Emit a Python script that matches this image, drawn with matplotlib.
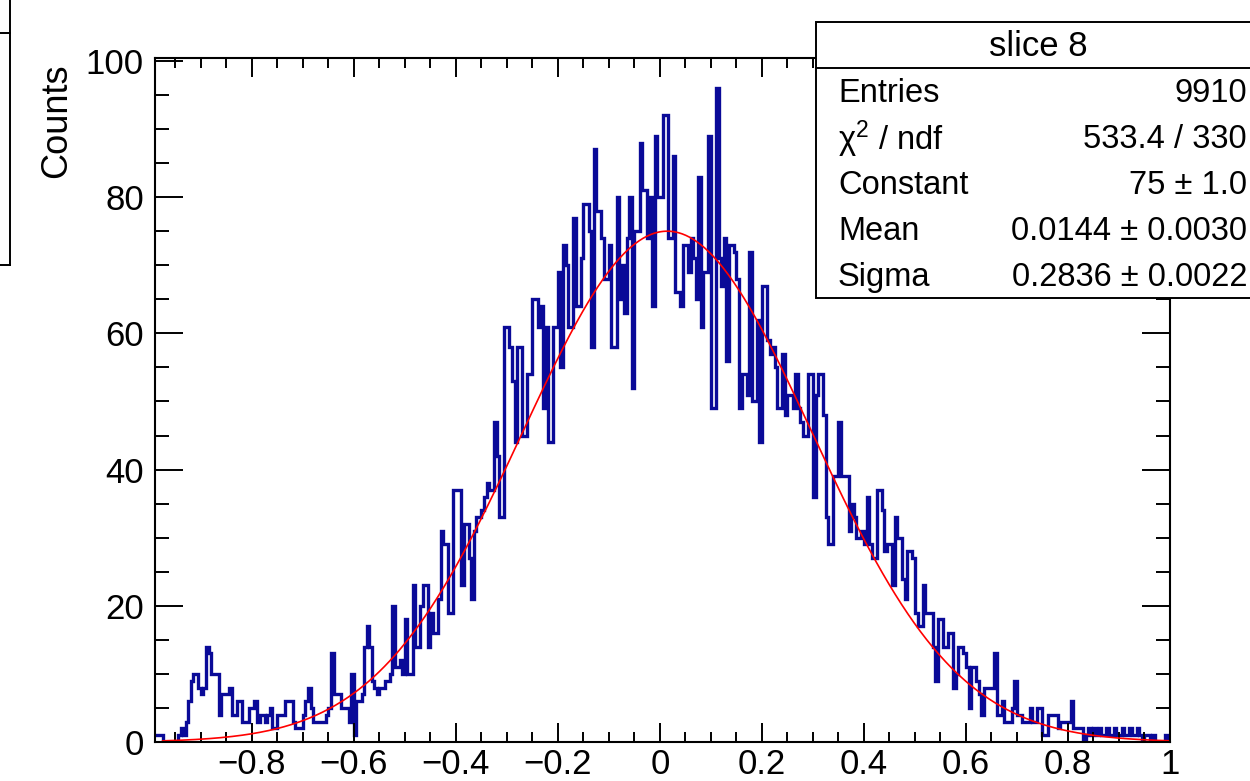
import numpy as np
import matplotlib
matplotlib.use("Agg")
import matplotlib.pyplot as plt
from matplotlib.lines import Line2D
from matplotlib.patches import Rectangle
from matplotlib.ticker import MultipleLocator, FuncFormatter

plt.rcParams["font.family"] = ["Liberation Sans", "DejaVu Sans"]

# histogramme "slice 8" : 400 bins de 0.005 entre -1 et 1 (une ligne = 0.1)
x_low, x_high, n_bins = -1.0, 1.0, 400
counts = [
    1, 1, 1, 1, 1, 0, 0, 0, 0, 0, 0, 1, 2, 1, 3, 6, 9, 10, 10, 8,          # -1.0
    7, 8, 14, 13, 10, 10, 10, 4, 7, 7, 7, 8, 4, 4, 6, 6, 3, 3, 3, 5,        # -0.9
    5, 6, 3, 4, 4, 3, 4, 5, 2, 2, 4, 4, 4, 6, 6, 6, 3, 2, 2, 2,             # -0.8
    4, 6, 8, 5, 3, 3, 3, 3, 3, 4, 5, 13, 7, 7, 7, 5, 5, 5, 3, 10,           # -0.7
    1, 6, 6, 7, 14, 17, 14, 9, 8, 7, 8, 8, 9, 9, 10, 20, 11, 11, 12, 10,    # -0.6
    18, 10, 10, 23, 14, 14, 20, 23, 23, 14, 19, 16, 16, 21, 31, 29, 29, 19, 19, 37,  # -0.5
    37, 37, 23, 32, 32, 27, 21, 31, 33, 33, 34, 36, 38, 37, 37, 47, 42, 33, 33, 61,  # -0.4
    61, 58, 53, 44, 58, 58, 45, 45, 54, 54, 65, 65, 61, 64, 49, 61, 44, 44, 61, 61,  # -0.3
    69, 55, 73, 70, 61, 61, 77, 64, 64, 71, 79, 79, 75, 58, 87, 78, 78, 74, 68, 68,  # -0.2
    73, 58, 58, 80, 65, 70, 63, 74, 80, 52, 75, 75, 88, 81, 81, 74, 80, 64, 89, 80,  # -0.1
    80, 92, 92, 74, 74, 86, 66, 66, 64, 73, 73, 69, 74, 71, 65, 83, 61, 69, 69, 89,  # 0.0
    49, 49, 96, 71, 67, 74, 56, 73, 73, 72, 68, 49, 54, 54, 51, 72, 50, 50, 62, 44,  # 0.1
    67, 67, 59, 57, 58, 55, 49, 49, 57, 48, 51, 51, 49, 54, 49, 47, 45, 45, 54, 54,  # 0.2
    36, 51, 54, 54, 48, 33, 29, 29, 39, 39, 47, 39, 39, 39, 31, 35, 33, 30, 30, 31,  # 0.3
    29, 36, 29, 27, 27, 37, 37, 34, 28, 29, 29, 23, 33, 30, 30, 24, 21, 28, 28, 27,  # 0.4
    19, 17, 17, 23, 19, 19, 19, 14, 9, 18, 18, 14, 14, 16, 16, 8, 10, 14, 14, 13,    # 0.5
    11, 5, 11, 11, 9, 7, 4, 8, 8, 8, 8, 13, 4, 4, 6, 3, 3, 3, 5, 9,         # 0.6
    4, 4, 3, 3, 3, 5, 3, 3, 5, 5, 1, 1, 4, 4, 4, 4, 2, 3, 3, 3,             # 0.7
    3, 6, 2, 2, 2, 2, 0, 1, 2, 1, 2, 1, 2, 1, 1, 2, 1, 1, 2, 1,             # 0.8
    1, 2, 1, 1, 2, 1, 1, 2, 1, 0, 1, 1, 0, 1, 0, 0, 0, 0, 1, 0,             # 0.9
]

# parametres du fit gaussien (boite de stats)
fit_constant = 75.0
fit_mean = 0.0144
fit_sigma = 0.2836
fit_range = (-0.975, 1.0)

stats_title = "slice 8"
stats_labels = ["Entries", "\u03c7$^{2}$ / ndf", "Constant", "Mean", "Sigma"]
stats_values = ["9910", "533.4 / 330", "75 \u00b1 1.0",
                "0.0144 \u00b1 0.0030", "0.2836 \u00b1 0.0022"]

W, H = 1250, 781


def px(x, y):
    """Pixels image -> fraction de figure"""
    return x / W, 1 - y / H


fig = plt.figure(figsize=(W / 100, H / 100), dpi=100)
plt.rcParams["mathtext.fontset"] = "custom"
plt.rcParams["mathtext.rm"] = "Liberation Sans"
plt.rcParams["mathtext.default"] = "rm"
ax = fig.add_axes([155 / W, (H - 742) / H, 1015 / W, (742 - 57.5) / H])

edges = np.linspace(x_low, x_high, n_bins + 1)
ax.stairs(counts, edges, color="#0a0a98", linewidth=2.4, baseline=None)

xf = np.linspace(fit_range[0], fit_range[1], 800)
yf = fit_constant * np.exp(-0.5 * ((xf - fit_mean) / fit_sigma) ** 2)
ax.plot(xf, yf, color="#ff0000", linewidth=1.2)

ax.set_xlim(-0.99, 1.0)
ax.set_ylim(0, 100.5)

ax.set_xticks(np.round(np.arange(-0.8, 1.01, 0.2), 1))
ax.xaxis.set_minor_locator(MultipleLocator(0.05))
ax.yaxis.set_major_locator(MultipleLocator(20))
ax.yaxis.set_minor_locator(MultipleLocator(5))
fmt = FuncFormatter(lambda v, _: f"{round(v, 6) + 0.0:g}".replace("-", "\u2212"))
ax.xaxis.set_major_formatter(fmt)
ax.yaxis.set_major_formatter(fmt)

ax.tick_params(which="both", direction="in", top=True, right=True, width=1.4,
               labelsize=25)
ax.tick_params(axis="x", which="major", length=14, pad=4)
ax.tick_params(axis="x", which="minor", length=7)
ax.tick_params(axis="y", which="major", length=20, pad=8)
ax.tick_params(axis="y", which="minor", length=10)
for s in ax.spines.values():
    s.set_linewidth(1.5)

fig.text(*px(57, 63), "Counts", rotation=90, ha="center", va="top", fontsize=26)

# boite de stats
bx0, by0 = px(816, 298)
bx1, by1 = px(1260, 22)
fig.patches.append(Rectangle((bx0, by0), bx1 - bx0, by1 - by0, transform=fig.transFigure,
                             facecolor="white", edgecolor="black", linewidth=1.4))
sx0, sy = px(816, 68)
fig.lines.append(Line2D([sx0, 1.0], [sy, sy], transform=fig.transFigure,
                        color="black", linewidth=1.4))
fig.text(*px(1038, 46), stats_title, ha="center", va="center", fontsize=25)
for i, (lab, val) in enumerate(zip(stats_labels, stats_values)):
    y = 93 + i * 46.2
    fig.text(*px(838, y), lab, ha="left", va="center", fontsize=23.5)
    fig.text(*px(1247, y), val, ha="right", va="center", fontsize=23.5)

# bord d'une autre boite, coupee a gauche
for xs, ys in [([0, 10], [33, 33]), ([10, 10], [0, 265]), ([0, 10], [265, 265])]:
    fig.lines.append(Line2D([x / W for x in xs], [1 - y / H for y in ys],
                            transform=fig.transFigure, color="black", linewidth=1.4))

fig.savefig("out.png", dpi=100)
